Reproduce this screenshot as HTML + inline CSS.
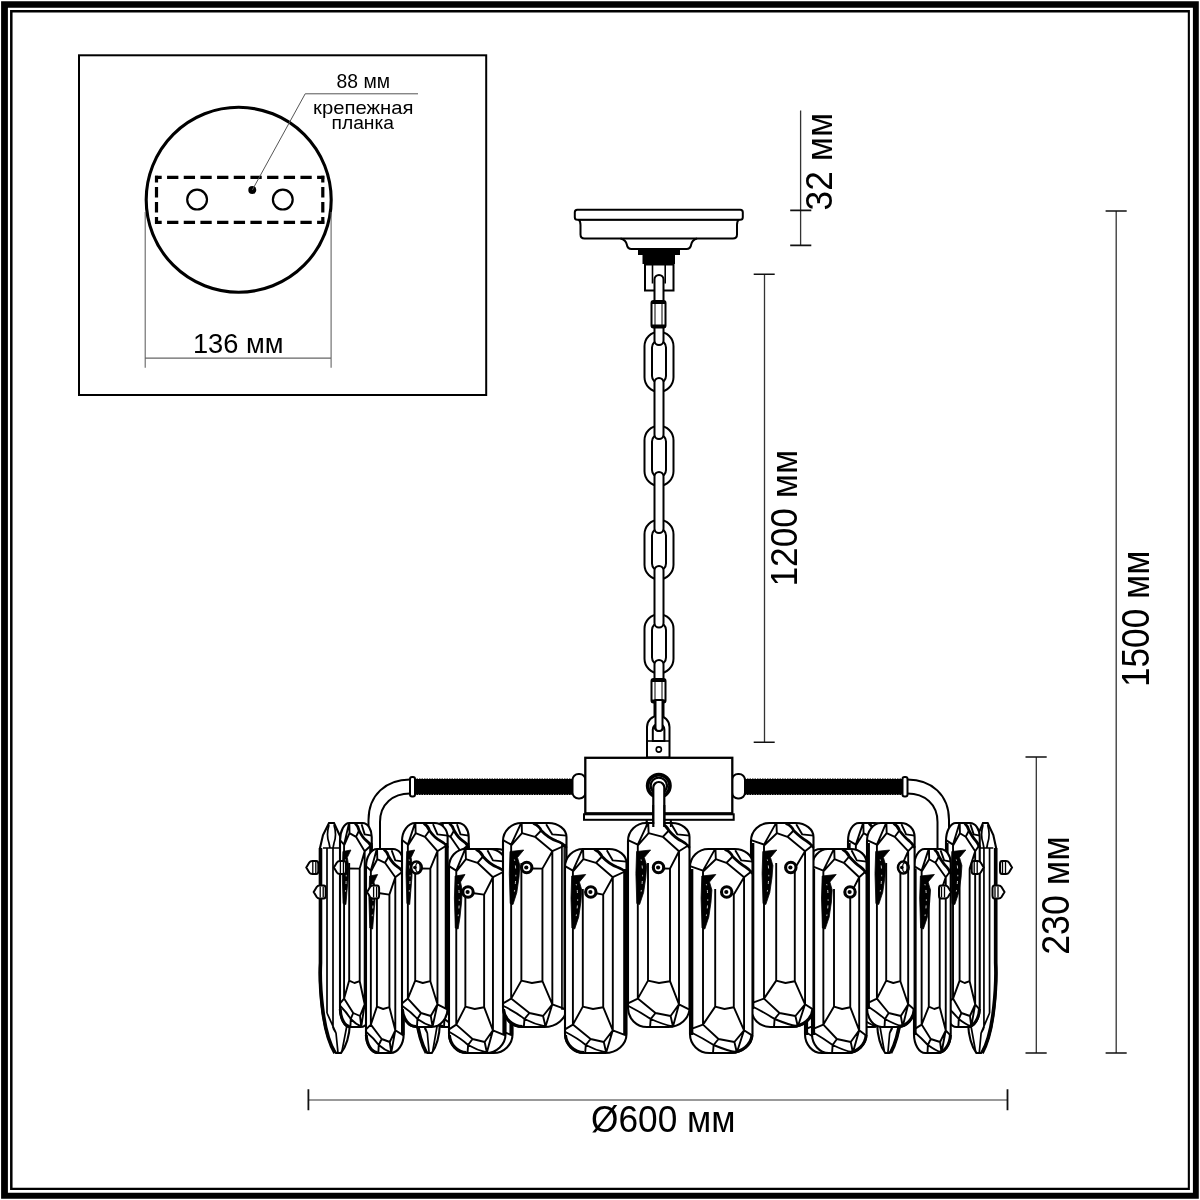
<!DOCTYPE html><html><head><meta charset="utf-8"><style>html,body{margin:0;padding:0;background:#fff;width:1200px;height:1200px;overflow:hidden}svg{display:block;will-change:transform}.t{font-family:"Liberation Sans",sans-serif;fill:#000}</style></head><body>
<svg width="1200" height="1200" viewBox="0 0 1200 1200">
<rect width="1200" height="1200" fill="#fff"/>
<path fill-rule="evenodd" fill="#000" d="M1.1,1.2H1198.8V1198.8H1.1Z M7.9,7.8V1192.8H1192.9V7.8Z"/>
<path fill-rule="evenodd" fill="#000" d="M10.05,10H1189.9V1189.9H10.05Z M12.55,12.5V1187.7H1187.8V12.5Z"/>
<rect x="79" y="55.3" width="407.2" height="339.7" fill="none" stroke="#000" stroke-width="2"/>
<circle cx="238.7" cy="199.8" r="92.5" fill="none" stroke="#000" stroke-width="3.1"/>
<path d="M155,177.3H324.3M155,222.3H324.3" fill="none" stroke="#000" stroke-width="3.2" stroke-dasharray="11.3 5.37" stroke-dashoffset="4.6"/>
<path d="M156.5,175.8V223.8M322.8,175.8V223.8" fill="none" stroke="#000" stroke-width="3.2" stroke-dasharray="10.5 4.5" stroke-dashoffset="3.8"/>
<circle cx="197.1" cy="199.6" r="9.9" fill="none" stroke="#000" stroke-width="2.2"/>
<circle cx="282.8" cy="199.6" r="9.9" fill="none" stroke="#000" stroke-width="2.2"/>
<circle cx="252.3" cy="190" r="4" fill="#000"/>
<path d="M252.3,190L305.2,93.8H418" fill="none" stroke="#555" stroke-width="1"/>
<path d="M145.2,212V367.8M331.1,212V367.8M145.2,358.1H331.1" fill="none" stroke="#666" stroke-width="1.1"/>
<text class="t" transform="translate(192.92,353.20) scale(0.9894,1)" font-size="27.57">136 мм</text>
<text class="t" transform="translate(336.53,88.20) scale(0.9964,1)" font-size="19.43">88 мм</text>
<text class="t" transform="translate(313.08,113.90) scale(1.0849,1)" font-size="18.70">крепежная</text>
<text class="t" transform="translate(331.55,128.60) scale(1.0089,1)" font-size="19.07">планка</text>
<g fill="none" stroke="#333" stroke-width="1.3">
<path d="M800.6,110.5V245.4M764.5,274.3V742.2M1116.2,211V1053M1036.3,757V1053"/>
<path stroke="#777" stroke-width="1.7" d="M308.4,1100H1007.5"/>
</g>
<g fill="none" stroke="#111" stroke-width="1.6">
<path d="M790.2,210.4H811.3M790.2,245.4H811.3M753.7,274.3H774.7M753.7,742.2H774.7M1105.6,211H1126.7M1105.6,1053H1126.7M1025.5,757H1046.7M1025.5,1053H1046.7"/>
<path stroke-width="1.8" d="M308.4,1089.3V1110.3M1007.5,1089.3V1110.3"/>
</g>
<text class="t" transform="translate(832.20,210.41) rotate(-90) scale(0.9686,1)" font-size="36.43">32 мм</text>
<text class="t" transform="translate(797.00,586.52) rotate(-90) scale(0.9682,1)" font-size="36.43">1200 мм</text>
<text class="t" transform="translate(1149.20,687.02) rotate(-90) scale(0.9225,1)" font-size="38.14">1500 мм</text>
<text class="t" transform="translate(1069.40,954.79) rotate(-90) scale(0.9300,1)" font-size="38.43">230 мм</text>
<text class="t" transform="translate(591.09,1132.00) scale(0.9670,1)" font-size="36.43">Ø600 мм</text>
<path fill="#fff" stroke="#000" stroke-width="2" d="M578.5,219.5 Q580.5,221 580.5,225 V234.5 Q580.5,238.5 584.5,238.5 H733 Q737,238.5 737,234.5 V225 Q737,221 739,219.5 Z"/>
<rect fill="#fff" stroke="#000" stroke-width="2" x="574.8" y="209.8" width="168" height="10" rx="2.5"/>
<path fill="none" stroke="#000" stroke-width="2" d="M620.5,238.5 Q626,240 626.8,244.5 Q627.5,249 631.5,249 H686.5 Q690.5,249 691.2,244.5 Q692,240 697,238.5"/>
<rect x="638" y="249" width="42" height="6" fill="#000"/><rect x="642.5" y="254" width="32.5" height="10" fill="#000"/>
<rect fill="#fff" stroke="#000" stroke-width="2" x="645" y="264.5" width="28.5" height="26"/>
<path fill="none" stroke="#000" stroke-width="1.6" d="M652.5,264.5V283.5M665.2,264.5V283.5"/>
<rect x="644.5" y="331.8" width="29" height="59.9" rx="14.5" fill="#fff" stroke="#000" stroke-width="2"/><rect x="652" y="340.5" width="14" height="42.5" rx="7" fill="#fff" stroke="#000" stroke-width="2"/>
<rect x="644.5" y="425.8" width="29" height="59.9" rx="14.5" fill="#fff" stroke="#000" stroke-width="2"/><rect x="652" y="434.5" width="14" height="42.5" rx="7" fill="#fff" stroke="#000" stroke-width="2"/>
<rect x="644.5" y="519.8" width="29" height="59.4" rx="14.5" fill="#fff" stroke="#000" stroke-width="2"/><rect x="652" y="528.5" width="14" height="42" rx="7" fill="#fff" stroke="#000" stroke-width="2"/>
<rect x="644.5" y="614.3" width="29" height="58.9" rx="14.5" fill="#fff" stroke="#000" stroke-width="2"/><rect x="652" y="623.0" width="14" height="41.5" rx="7" fill="#fff" stroke="#000" stroke-width="2"/>
<path fill="#fff" stroke="#000" stroke-width="2" d="M654.5,279.5 A4.5,4.5 0 0 1 663.5,279.5 L663.5,340.5 A4.5,4.5 0 0 1 654.5,340.5 Z"/>
<path fill="#fff" stroke="#000" stroke-width="2" d="M654.5,382.5 A4.5,4.5 0 0 1 663.5,382.5 L663.5,434.5 A4.5,4.5 0 0 1 654.5,434.5 Z"/>
<path fill="#fff" stroke="#000" stroke-width="2" d="M654.5,476.5 A4.5,4.5 0 0 1 663.5,476.5 L663.5,528.5 A4.5,4.5 0 0 1 654.5,528.5 Z"/>
<path fill="#fff" stroke="#000" stroke-width="2" d="M654.5,570.5 A4.5,4.5 0 0 1 663.5,570.5 L663.5,623.0 A4.5,4.5 0 0 1 654.5,623.0 Z"/>
<path fill="#fff" stroke="#000" stroke-width="2" d="M654.5,664.5 A4.5,4.5 0 0 1 663.5,664.5 L663.5,726.5 A4.5,4.5 0 0 1 654.5,726.5 Z"/>
<rect x="651.5" y="301" width="14" height="26.5" rx="2" fill="#fff" stroke="#000" stroke-width="2"/><path fill="none" stroke="#000" stroke-width="1" d="M655,303V325.5M662,303V325.5"/><rect x="651.5" y="301" width="14" height="3" fill="#000"/><rect x="651.5" y="324.5" width="14" height="3" fill="#000"/>
<rect x="651.5" y="679" width="14" height="23.5" rx="2" fill="#fff" stroke="#000" stroke-width="2"/><path fill="none" stroke="#000" stroke-width="1" d="M655,681V700.5M662,681V700.5"/><rect x="651.5" y="679" width="14" height="3" fill="#000"/><rect x="651.5" y="699.5" width="14" height="3" fill="#000"/>
<path fill-rule="evenodd" fill="#fff" stroke="#000" stroke-width="2" d="M647,757.5 V727 A11,11 0 0 1 669.5,727 V757.5 Z M652.8,741 V729.5 A5.8,5.8 0 0 1 664.4,729.5 V741 Z"/>
<path fill="none" stroke="#000" stroke-width="1.6" d="M647,741H669.5"/>
<path fill="#fff" stroke="#000" stroke-width="2" d="M655.5,700 L662.5,700 L662.5,727.5 A3.5,3.5 0 0 1 655.5,727.5 Z"/>
<circle cx="658.8" cy="749.5" r="2.6" fill="none" stroke="#000" stroke-width="1.6"/>
<rect x="412" y="778.5" width="161" height="16.5" fill="#000"/>
<rect x="745" y="778.5" width="159" height="16.5" fill="#000"/>
<path fill="none" stroke="#fff" stroke-width="1" stroke-dasharray="1 1.5" d="M413,778.5H572M746,778.5H903M413,795H572M746,795H903"/>
<rect fill="#fff" stroke="#000" stroke-width="2" x="572.5" y="774" width="13" height="24.5" rx="6"/>
<rect fill="#fff" stroke="#000" stroke-width="2" x="732" y="774" width="13" height="24.5" rx="6"/>
<path fill="none" stroke="#000" stroke-width="2" d="M410,779.5 C386,779.5 368.5,795 368.5,820 V860 M410,793.5 C393,793.5 380,804 380,822 V860"/>
<path fill="none" stroke="#000" stroke-width="2" d="M907.5,779.5 C931.5,779.5 949,795 949,820 V860 M907.5,793.5 C924.5,793.5 937.5,804 937.5,822 V860"/>
<rect fill="#fff" stroke="#000" stroke-width="2" x="410" y="777" width="5" height="19.5" rx="2"/>
<rect fill="#fff" stroke="#000" stroke-width="2" x="902.5" y="777" width="5" height="19.5" rx="2"/>
<rect fill="#fff" stroke="#000" stroke-width="2.3" x="585.3" y="757.8" width="147" height="55.5"/>
<rect fill="#fff" stroke="#000" stroke-width="2" x="584" y="814.3" width="149.7" height="5.5"/>
<path fill="none" stroke="#000" stroke-width="1.8" d="M646.7,820V828M670.8,820V828"/>
<circle cx="658.8" cy="785.8" r="11.2" fill="#fff" stroke="#000" stroke-width="3.6"/>
<circle cx="658.8" cy="785.8" r="8.2" fill="none" stroke="#000" stroke-width="2.4"/>
<path fill="#fff" stroke="#000" stroke-width="2.2" d="M653.3,830 V787.5 A5.5,5.5 0 0 1 664.3,787.5 V830 Z"/>
<g transform="translate(411.00,823.00) scale(0.9062,1)"><path vector-effect="non-scaling-stroke" fill="#fff" stroke="#000" stroke-width="2.1" d="M2,25 L5,12 L11,0 H16 L22,13 L26,25 L31,70 L32,200 Q31,220 23,230 H18 Q8,218 4,185 Q1,160 2,140 Z"/><path vector-effect="non-scaling-stroke" fill="none" stroke="#000" stroke-width="3.6" d="M2.5,25 V140 Q1.5,160 4.5,185 Q8,215 17,230"/><path vector-effect="non-scaling-stroke" fill="none" stroke="#000" stroke-width="1.7" d="M5,25 H23 M11,2 Q8,12 11,20 L12,25 M16,2 Q19,12 16,20 L15,25 M9,25V190 M15,25V205 M22,26V180 M28,60V200 M9,190 L18,210 L20,230 M22,180 L29,202 L24,228 M15,205 L18,210"/></g>
<g transform="translate(906.00,823.00) scale(-0.9062,1)"><path vector-effect="non-scaling-stroke" fill="#fff" stroke="#000" stroke-width="2.1" d="M2,25 L5,12 L11,0 H16 L22,13 L26,25 L31,70 L32,200 Q31,220 23,230 H18 Q8,218 4,185 Q1,160 2,140 Z"/><path vector-effect="non-scaling-stroke" fill="none" stroke="#000" stroke-width="3.6" d="M2.5,25 V140 Q1.5,160 4.5,185 Q8,215 17,230"/><path vector-effect="non-scaling-stroke" fill="none" stroke="#000" stroke-width="1.7" d="M5,25 H23 M11,2 Q8,12 11,20 L12,25 M16,2 Q19,12 16,20 L15,25 M9,25V190 M15,25V205 M22,26V180 M28,60V200 M9,190 L18,210 L20,230 M22,180 L29,202 L24,228 M15,205 L18,210"/></g>
<g transform="translate(432.00,823.00) scale(0.5968,1)"><path vector-effect="non-scaling-stroke" fill="#fff" stroke="#000" stroke-width="2.1" d="M0,18 A18,18 0 0 1 18,0 H44 A17.5,14 0 0 1 61.5,14 V185 A21.5,19 0 0 1 40,204 H19 A19,19 0 0 1 0,185 Z"/><path vector-effect="non-scaling-stroke" fill="none" stroke="#000" stroke-width="3.4" d="M59.9,20V186"/><path vector-effect="non-scaling-stroke" fill="none" stroke="#000" stroke-width="3" d="M0.5,186 A19,19 0 0 0 19,203.5"/><path vector-effect="non-scaling-stroke" fill="none" stroke="#000" stroke-width="1.9" stroke-linejoin="round" d="M0,17.1 L7.9,21.6 L17.2,0.9 M18.1,0.9 L18.400000000000002,10.2 L8.200000000000001,22.2 M18.400000000000002,10.2 L31.0,13.8 L37.0,7.5 M31.0,13.8 L47.8,28.2 L61,22 M41.8,1.2 L47.8,11.4 L61.6,12.6 M47.8,28.2 L38.2,45.6 M7.9,21.6V175.6 M17.8,40V157.6 M38.2,45.6V158.2 M47.8,28.2V181.3 M17.8,157.6 L28.0,160 L38.2,158.2 M17.8,157.6 L7.9,175.6 L0,180.4 M7.9,175.6 L25.6,190 L38.8,193 L47.8,181.3 L38.2,158.2 M47.8,181.3 L61,186.4 M47.8,181.3 L41.2,203.5 M38.8,193 L41.2,203.5 M25.6,190 L20.8,196 M0.5,183 Q13,189.4 20.8,196 L20.2,203.5 M20.8,196 Q31.0,201.4 41.0,203.5"/><path vector-effect="non-scaling-stroke" fill="none" stroke="#000" stroke-width="2.8" stroke-linecap="round" d="M30.0,0.8 Q35.0,3 37.0,7.5 Q44.0,15 52.0,18 Q58,20 61,24"/></g>
<g transform="translate(848.00,823.00) scale(0.6129,1)"><path vector-effect="non-scaling-stroke" fill="#fff" stroke="#000" stroke-width="2.1" d="M0,18 A18,18 0 0 1 18,0 H44 A17.5,14 0 0 1 61.5,14 V185 A21.5,19 0 0 1 40,204 H19 A19,19 0 0 1 0,185 Z"/><path vector-effect="non-scaling-stroke" fill="none" stroke="#000" stroke-width="3.4" d="M1.6,20V186"/><path vector-effect="non-scaling-stroke" fill="none" stroke="#000" stroke-width="3" d="M61,186 A21.5,19 0 0 1 40,203.5"/><path vector-effect="non-scaling-stroke" fill="none" stroke="#000" stroke-width="1.9" stroke-linejoin="round" d="M0,17.1 L12.8,21.6 L24.2,0.9 M25.1,0.9 L25.400000000000002,10.2 L13.100000000000001,22.2 M25.400000000000002,10.2 L35.9,13.8 L41.9,7.5 M35.9,13.8 L53.2,28.2 L61,22 M44.5,1.2 L50.5,11.4 L61.6,12.6 M53.2,28.2 L43.1,45.6 M12.8,21.6V175.6 M24.8,40V157.6 M43.1,45.6V158.2 M53.2,28.2V181.3 M24.8,157.6 L33.95,160 L43.1,158.2 M24.8,157.6 L12.8,175.6 L0,180.4 M12.8,175.6 L28.05,190 L43.699999999999996,193 L53.2,181.3 L43.1,158.2 M53.2,181.3 L61,186.4 M53.2,181.3 L46.1,203.5 M43.699999999999996,193 L46.1,203.5 M28.05,190 L23.25,196 M0.5,183 Q13,189.4 23.25,196 L22.65,203.5 M23.25,196 Q35.9,201.4 45.9,203.5"/><path vector-effect="non-scaling-stroke" fill="none" stroke="#000" stroke-width="2.8" stroke-linecap="round" d="M34.9,0.8 Q39.9,3 41.9,7.5 Q49.400000000000006,15 54.7,18 Q58,20 61,24"/></g>
<g transform="translate(458.00,849.00) scale(0.8871,1)"><path vector-effect="non-scaling-stroke" fill="#fff" stroke="#000" stroke-width="2.1" d="M0,18 A18,18 0 0 1 18,0 H44 A17.5,14 0 0 1 61.5,14 V185 A21.5,19 0 0 1 40,204 H19 A19,19 0 0 1 0,185 Z"/><path vector-effect="non-scaling-stroke" fill="none" stroke="#000" stroke-width="3.4" d="M59.9,20V186"/><path vector-effect="non-scaling-stroke" fill="none" stroke="#000" stroke-width="3" d="M0.5,186 A19,19 0 0 0 19,203.5"/><path vector-effect="non-scaling-stroke" fill="none" stroke="#000" stroke-width="1.9" stroke-linejoin="round" d="M0,17.1 L7.9,21.6 L17.2,0.9 M18.1,0.9 L18.400000000000002,10.2 L8.200000000000001,22.2 M18.400000000000002,10.2 L31.0,13.8 L37.0,7.5 M31.0,13.8 L47.8,28.2 L61,22 M41.8,1.2 L47.8,11.4 L61.6,12.6 M47.8,28.2 L38.2,45.6 M7.9,21.6V175.6 M17.8,40V157.6 M38.2,45.6V158.2 M47.8,28.2V181.3 M17.8,157.6 L28.0,160 L38.2,158.2 M17.8,157.6 L7.9,175.6 L0,180.4 M7.9,175.6 L25.6,190 L38.8,193 L47.8,181.3 L38.2,158.2 M47.8,181.3 L61,186.4 M47.8,181.3 L41.2,203.5 M38.8,193 L41.2,203.5 M25.6,190 L20.8,196 M0.5,183 Q13,189.4 20.8,196 L20.2,203.5 M20.8,196 Q31.0,201.4 41.0,203.5"/><path vector-effect="non-scaling-stroke" fill="none" stroke="#000" stroke-width="2.8" stroke-linecap="round" d="M30.0,0.8 Q35.0,3 37.0,7.5 Q44.0,15 52.0,18 Q58,20 61,24"/></g>
<g transform="translate(805.00,849.00) scale(0.8871,1)"><path vector-effect="non-scaling-stroke" fill="#fff" stroke="#000" stroke-width="2.1" d="M0,18 A18,18 0 0 1 18,0 H44 A17.5,14 0 0 1 61.5,14 V185 A21.5,19 0 0 1 40,204 H19 A19,19 0 0 1 0,185 Z"/><path vector-effect="non-scaling-stroke" fill="none" stroke="#000" stroke-width="3.4" d="M1.6,20V186"/><path vector-effect="non-scaling-stroke" fill="none" stroke="#000" stroke-width="3" d="M61,186 A21.5,19 0 0 1 40,203.5"/><path vector-effect="non-scaling-stroke" fill="none" stroke="#000" stroke-width="1.9" stroke-linejoin="round" d="M0,17.1 L12.8,21.6 L24.2,0.9 M25.1,0.9 L25.400000000000002,10.2 L13.100000000000001,22.2 M25.400000000000002,10.2 L35.9,13.8 L41.9,7.5 M35.9,13.8 L53.2,28.2 L61,22 M44.5,1.2 L50.5,11.4 L61.6,12.6 M53.2,28.2 L43.1,45.6 M12.8,21.6V175.6 M24.8,40V157.6 M43.1,45.6V158.2 M53.2,28.2V181.3 M24.8,157.6 L33.95,160 L43.1,158.2 M24.8,157.6 L12.8,175.6 L0,180.4 M12.8,175.6 L28.05,190 L43.699999999999996,193 L53.2,181.3 L43.1,158.2 M53.2,181.3 L61,186.4 M53.2,181.3 L46.1,203.5 M43.699999999999996,193 L46.1,203.5 M28.05,190 L23.25,196 M0.5,183 Q13,189.4 23.25,196 L22.65,203.5 M23.25,196 Q35.9,201.4 45.9,203.5"/><path vector-effect="non-scaling-stroke" fill="none" stroke="#000" stroke-width="2.8" stroke-linecap="round" d="M34.9,0.8 Q39.9,3 41.9,7.5 Q49.400000000000006,15 54.7,18 Q58,20 61,24"/></g>
<g transform="translate(318.00,823.00) scale(1.0000,1)"><path vector-effect="non-scaling-stroke" fill="#fff" stroke="#000" stroke-width="2.1" d="M2,25 L5,12 L11,0 H16 L22,13 L26,25 L31,70 L32,200 Q31,220 23,230 H18 Q8,218 4,185 Q1,160 2,140 Z"/><path vector-effect="non-scaling-stroke" fill="none" stroke="#000" stroke-width="3.6" d="M2.5,25 V140 Q1.5,160 4.5,185 Q8,215 17,230"/><path vector-effect="non-scaling-stroke" fill="none" stroke="#000" stroke-width="1.7" d="M5,25 H23 M11,2 Q8,12 11,20 L12,25 M16,2 Q19,12 16,20 L15,25 M9,25V190 M15,25V205 M22,26V180 M28,60V200 M9,190 L18,210 L20,230 M22,180 L29,202 L24,228 M15,205 L18,210"/></g>
<g transform="translate(998.00,823.00) scale(-0.9375,1)"><path vector-effect="non-scaling-stroke" fill="#fff" stroke="#000" stroke-width="2.1" d="M2,25 L5,12 L11,0 H16 L22,13 L26,25 L31,70 L32,200 Q31,220 23,230 H18 Q8,218 4,185 Q1,160 2,140 Z"/><path vector-effect="non-scaling-stroke" fill="none" stroke="#000" stroke-width="3.6" d="M2.5,25 V140 Q1.5,160 4.5,185 Q8,215 17,230"/><path vector-effect="non-scaling-stroke" fill="none" stroke="#000" stroke-width="1.7" d="M5,25 H23 M11,2 Q8,12 11,20 L12,25 M16,2 Q19,12 16,20 L15,25 M9,25V190 M15,25V205 M22,26V180 M28,60V200 M9,190 L18,210 L20,230 M22,180 L29,202 L24,228 M15,205 L18,210"/></g>
<g transform="translate(340.00,823.00) scale(0.5161,1)"><path vector-effect="non-scaling-stroke" fill="#fff" stroke="#000" stroke-width="2.1" d="M0,18 A18,18 0 0 1 18,0 H44 A17.5,14 0 0 1 61.5,14 V185 A21.5,19 0 0 1 40,204 H19 A19,19 0 0 1 0,185 Z"/><path vector-effect="non-scaling-stroke" fill="none" stroke="#000" stroke-width="3.4" d="M59.9,20V186"/><path vector-effect="non-scaling-stroke" fill="none" stroke="#000" stroke-width="3" d="M0.5,186 A19,19 0 0 0 19,203.5"/><path vector-effect="non-scaling-stroke" fill="none" stroke="#000" stroke-width="1.9" stroke-linejoin="round" d="M0,17.1 L7.9,21.6 L17.2,0.9 M18.1,0.9 L18.400000000000002,10.2 L8.200000000000001,22.2 M18.400000000000002,10.2 L31.0,13.8 L37.0,7.5 M31.0,13.8 L47.8,28.2 L61,22 M41.8,1.2 L47.8,11.4 L61.6,12.6 M47.8,28.2 L38.2,45.6 M7.9,21.6V175.6 M17.8,40V157.6 M38.2,45.6V158.2 M47.8,28.2V181.3 M17.8,157.6 L28.0,160 L38.2,158.2 M17.8,157.6 L7.9,175.6 L0,180.4 M7.9,175.6 L25.6,190 L38.8,193 L47.8,181.3 L38.2,158.2 M47.8,181.3 L61,186.4 M47.8,181.3 L41.2,203.5 M38.8,193 L41.2,203.5 M25.6,190 L20.8,196 M0.5,183 Q13,189.4 20.8,196 L20.2,203.5 M20.8,196 Q31.0,201.4 41.0,203.5"/><path vector-effect="non-scaling-stroke" fill="none" stroke="#000" stroke-width="2.8" stroke-linecap="round" d="M30.0,0.8 Q35.0,3 37.0,7.5 Q44.0,15 52.0,18 Q58,20 61,24"/></g>
<g transform="translate(946.00,823.00) scale(0.5484,1)"><path vector-effect="non-scaling-stroke" fill="#fff" stroke="#000" stroke-width="2.1" d="M0,18 A18,18 0 0 1 18,0 H44 A17.5,14 0 0 1 61.5,14 V185 A21.5,19 0 0 1 40,204 H19 A19,19 0 0 1 0,185 Z"/><path vector-effect="non-scaling-stroke" fill="none" stroke="#000" stroke-width="3.4" d="M1.6,20V186"/><path vector-effect="non-scaling-stroke" fill="none" stroke="#000" stroke-width="3" d="M61,186 A21.5,19 0 0 1 40,203.5"/><path vector-effect="non-scaling-stroke" fill="none" stroke="#000" stroke-width="1.9" stroke-linejoin="round" d="M0,17.1 L12.8,21.6 L24.2,0.9 M25.1,0.9 L25.400000000000002,10.2 L13.100000000000001,22.2 M25.400000000000002,10.2 L35.9,13.8 L41.9,7.5 M35.9,13.8 L53.2,28.2 L61,22 M44.5,1.2 L50.5,11.4 L61.6,12.6 M53.2,28.2 L43.1,45.6 M12.8,21.6V175.6 M24.8,40V157.6 M43.1,45.6V158.2 M53.2,28.2V181.3 M24.8,157.6 L33.95,160 L43.1,158.2 M24.8,157.6 L12.8,175.6 L0,180.4 M12.8,175.6 L28.05,190 L43.699999999999996,193 L53.2,181.3 L43.1,158.2 M53.2,181.3 L61,186.4 M53.2,181.3 L46.1,203.5 M43.699999999999996,193 L46.1,203.5 M28.05,190 L23.25,196 M0.5,183 Q13,189.4 23.25,196 L22.65,203.5 M23.25,196 Q35.9,201.4 45.9,203.5"/><path vector-effect="non-scaling-stroke" fill="none" stroke="#000" stroke-width="2.8" stroke-linecap="round" d="M34.9,0.8 Q39.9,3 41.9,7.5 Q49.400000000000006,15 54.7,18 Q58,20 61,24"/></g>
<g transform="translate(366.00,849.00) scale(0.6129,1)"><path vector-effect="non-scaling-stroke" fill="#fff" stroke="#000" stroke-width="2.1" d="M0,18 A18,18 0 0 1 18,0 H44 A17.5,14 0 0 1 61.5,14 V185 A21.5,19 0 0 1 40,204 H19 A19,19 0 0 1 0,185 Z"/><path vector-effect="non-scaling-stroke" fill="none" stroke="#000" stroke-width="3.4" d="M59.9,20V186"/><path vector-effect="non-scaling-stroke" fill="none" stroke="#000" stroke-width="3" d="M0.5,186 A19,19 0 0 0 19,203.5"/><path vector-effect="non-scaling-stroke" fill="none" stroke="#000" stroke-width="1.9" stroke-linejoin="round" d="M0,17.1 L7.9,21.6 L17.2,0.9 M18.1,0.9 L18.400000000000002,10.2 L8.200000000000001,22.2 M18.400000000000002,10.2 L31.0,13.8 L37.0,7.5 M31.0,13.8 L47.8,28.2 L61,22 M41.8,1.2 L47.8,11.4 L61.6,12.6 M47.8,28.2 L38.2,45.6 M7.9,21.6V175.6 M17.8,40V157.6 M38.2,45.6V158.2 M47.8,28.2V181.3 M17.8,157.6 L28.0,160 L38.2,158.2 M17.8,157.6 L7.9,175.6 L0,180.4 M7.9,175.6 L25.6,190 L38.8,193 L47.8,181.3 L38.2,158.2 M47.8,181.3 L61,186.4 M47.8,181.3 L41.2,203.5 M38.8,193 L41.2,203.5 M25.6,190 L20.8,196 M0.5,183 Q13,189.4 20.8,196 L20.2,203.5 M20.8,196 Q31.0,201.4 41.0,203.5"/><path vector-effect="non-scaling-stroke" fill="none" stroke="#000" stroke-width="2.8" stroke-linecap="round" d="M30.0,0.8 Q35.0,3 37.0,7.5 Q44.0,15 52.0,18 Q58,20 61,24"/></g>
<g transform="translate(914.00,849.00) scale(0.5968,1)"><path vector-effect="non-scaling-stroke" fill="#fff" stroke="#000" stroke-width="2.1" d="M0,18 A18,18 0 0 1 18,0 H44 A17.5,14 0 0 1 61.5,14 V185 A21.5,19 0 0 1 40,204 H19 A19,19 0 0 1 0,185 Z"/><path vector-effect="non-scaling-stroke" fill="none" stroke="#000" stroke-width="3.4" d="M1.6,20V186"/><path vector-effect="non-scaling-stroke" fill="none" stroke="#000" stroke-width="3" d="M61,186 A21.5,19 0 0 1 40,203.5"/><path vector-effect="non-scaling-stroke" fill="none" stroke="#000" stroke-width="1.9" stroke-linejoin="round" d="M0,17.1 L12.8,21.6 L24.2,0.9 M25.1,0.9 L25.400000000000002,10.2 L13.100000000000001,22.2 M25.400000000000002,10.2 L35.9,13.8 L41.9,7.5 M35.9,13.8 L53.2,28.2 L61,22 M44.5,1.2 L50.5,11.4 L61.6,12.6 M53.2,28.2 L43.1,45.6 M12.8,21.6V175.6 M24.8,40V157.6 M43.1,45.6V158.2 M53.2,28.2V181.3 M24.8,157.6 L33.95,160 L43.1,158.2 M24.8,157.6 L12.8,175.6 L0,180.4 M12.8,175.6 L28.05,190 L43.699999999999996,193 L53.2,181.3 L43.1,158.2 M53.2,181.3 L61,186.4 M53.2,181.3 L46.1,203.5 M43.699999999999996,193 L46.1,203.5 M28.05,190 L23.25,196 M0.5,183 Q13,189.4 23.25,196 L22.65,203.5 M23.25,196 Q35.9,201.4 45.9,203.5"/><path vector-effect="non-scaling-stroke" fill="none" stroke="#000" stroke-width="2.8" stroke-linecap="round" d="M34.9,0.8 Q39.9,3 41.9,7.5 Q49.400000000000006,15 54.7,18 Q58,20 61,24"/></g>
<g transform="translate(402.00,823.00) scale(0.7419,1)"><path vector-effect="non-scaling-stroke" fill="#fff" stroke="#000" stroke-width="2.1" d="M0,18 A18,18 0 0 1 18,0 H44 A17.5,14 0 0 1 61.5,14 V185 A21.5,19 0 0 1 40,204 H19 A19,19 0 0 1 0,185 Z"/><path vector-effect="non-scaling-stroke" fill="none" stroke="#000" stroke-width="3.4" d="M59.9,20V186"/><path vector-effect="non-scaling-stroke" fill="none" stroke="#000" stroke-width="3" d="M0.5,186 A19,19 0 0 0 19,203.5"/><path vector-effect="non-scaling-stroke" fill="none" stroke="#000" stroke-width="1.9" stroke-linejoin="round" d="M0,17.1 L7.9,21.6 L17.2,0.9 M18.1,0.9 L18.400000000000002,10.2 L8.200000000000001,22.2 M18.400000000000002,10.2 L31.0,13.8 L37.0,7.5 M31.0,13.8 L47.8,28.2 L61,22 M41.8,1.2 L47.8,11.4 L61.6,12.6 M47.8,28.2 L38.2,45.6 M7.9,21.6V175.6 M17.8,40V157.6 M38.2,45.6V158.2 M47.8,28.2V181.3 M17.8,157.6 L28.0,160 L38.2,158.2 M17.8,157.6 L7.9,175.6 L0,180.4 M7.9,175.6 L25.6,190 L38.8,193 L47.8,181.3 L38.2,158.2 M47.8,181.3 L61,186.4 M47.8,181.3 L41.2,203.5 M38.8,193 L41.2,203.5 M25.6,190 L20.8,196 M0.5,183 Q13,189.4 20.8,196 L20.2,203.5 M20.8,196 Q31.0,201.4 41.0,203.5"/><path vector-effect="non-scaling-stroke" fill="none" stroke="#000" stroke-width="2.8" stroke-linecap="round" d="M30.0,0.8 Q35.0,3 37.0,7.5 Q44.0,15 52.0,18 Q58,20 61,24"/></g>
<g transform="translate(867.00,823.00) scale(0.7742,1)"><path vector-effect="non-scaling-stroke" fill="#fff" stroke="#000" stroke-width="2.1" d="M0,18 A18,18 0 0 1 18,0 H44 A17.5,14 0 0 1 61.5,14 V185 A21.5,19 0 0 1 40,204 H19 A19,19 0 0 1 0,185 Z"/><path vector-effect="non-scaling-stroke" fill="none" stroke="#000" stroke-width="3.4" d="M1.6,20V186"/><path vector-effect="non-scaling-stroke" fill="none" stroke="#000" stroke-width="3" d="M61,186 A21.5,19 0 0 1 40,203.5"/><path vector-effect="non-scaling-stroke" fill="none" stroke="#000" stroke-width="1.9" stroke-linejoin="round" d="M0,17.1 L12.8,21.6 L24.2,0.9 M25.1,0.9 L25.400000000000002,10.2 L13.100000000000001,22.2 M25.400000000000002,10.2 L35.9,13.8 L41.9,7.5 M35.9,13.8 L53.2,28.2 L61,22 M44.5,1.2 L50.5,11.4 L61.6,12.6 M53.2,28.2 L43.1,45.6 M12.8,21.6V175.6 M24.8,40V157.6 M43.1,45.6V158.2 M53.2,28.2V181.3 M24.8,157.6 L33.95,160 L43.1,158.2 M24.8,157.6 L12.8,175.6 L0,180.4 M12.8,175.6 L28.05,190 L43.699999999999996,193 L53.2,181.3 L43.1,158.2 M53.2,181.3 L61,186.4 M53.2,181.3 L46.1,203.5 M43.699999999999996,193 L46.1,203.5 M28.05,190 L23.25,196 M0.5,183 Q13,189.4 23.25,196 L22.65,203.5 M23.25,196 Q35.9,201.4 45.9,203.5"/><path vector-effect="non-scaling-stroke" fill="none" stroke="#000" stroke-width="2.8" stroke-linecap="round" d="M34.9,0.8 Q39.9,3 41.9,7.5 Q49.400000000000006,15 54.7,18 Q58,20 61,24"/></g>
<g transform="translate(449.00,849.00) scale(0.9194,1)"><path vector-effect="non-scaling-stroke" fill="#fff" stroke="#000" stroke-width="2.1" d="M0,18 A18,18 0 0 1 18,0 H44 A17.5,14 0 0 1 61.5,14 V185 A21.5,19 0 0 1 40,204 H19 A19,19 0 0 1 0,185 Z"/><path vector-effect="non-scaling-stroke" fill="none" stroke="#000" stroke-width="3.4" d="M59.9,20V186"/><path vector-effect="non-scaling-stroke" fill="none" stroke="#000" stroke-width="3" d="M0.5,186 A19,19 0 0 0 19,203.5"/><path vector-effect="non-scaling-stroke" fill="none" stroke="#000" stroke-width="1.9" stroke-linejoin="round" d="M0,17.1 L7.9,21.6 L17.2,0.9 M18.1,0.9 L18.400000000000002,10.2 L8.200000000000001,22.2 M18.400000000000002,10.2 L31.0,13.8 L37.0,7.5 M31.0,13.8 L47.8,28.2 L61,22 M41.8,1.2 L47.8,11.4 L61.6,12.6 M47.8,28.2 L38.2,45.6 M7.9,21.6V175.6 M17.8,40V157.6 M38.2,45.6V158.2 M47.8,28.2V181.3 M17.8,157.6 L28.0,160 L38.2,158.2 M17.8,157.6 L7.9,175.6 L0,180.4 M7.9,175.6 L25.6,190 L38.8,193 L47.8,181.3 L38.2,158.2 M47.8,181.3 L61,186.4 M47.8,181.3 L41.2,203.5 M38.8,193 L41.2,203.5 M25.6,190 L20.8,196 M0.5,183 Q13,189.4 20.8,196 L20.2,203.5 M20.8,196 Q31.0,201.4 41.0,203.5"/><path vector-effect="non-scaling-stroke" fill="none" stroke="#000" stroke-width="2.8" stroke-linecap="round" d="M30.0,0.8 Q35.0,3 37.0,7.5 Q44.0,15 52.0,18 Q58,20 61,24"/></g>
<g transform="translate(812.00,849.00) scale(0.8871,1)"><path vector-effect="non-scaling-stroke" fill="#fff" stroke="#000" stroke-width="2.1" d="M0,18 A18,18 0 0 1 18,0 H44 A17.5,14 0 0 1 61.5,14 V185 A21.5,19 0 0 1 40,204 H19 A19,19 0 0 1 0,185 Z"/><path vector-effect="non-scaling-stroke" fill="none" stroke="#000" stroke-width="3.4" d="M1.6,20V186"/><path vector-effect="non-scaling-stroke" fill="none" stroke="#000" stroke-width="3" d="M61,186 A21.5,19 0 0 1 40,203.5"/><path vector-effect="non-scaling-stroke" fill="none" stroke="#000" stroke-width="1.9" stroke-linejoin="round" d="M0,17.1 L12.8,21.6 L24.2,0.9 M25.1,0.9 L25.400000000000002,10.2 L13.100000000000001,22.2 M25.400000000000002,10.2 L35.9,13.8 L41.9,7.5 M35.9,13.8 L53.2,28.2 L61,22 M44.5,1.2 L50.5,11.4 L61.6,12.6 M53.2,28.2 L43.1,45.6 M12.8,21.6V175.6 M24.8,40V157.6 M43.1,45.6V158.2 M53.2,28.2V181.3 M24.8,157.6 L33.95,160 L43.1,158.2 M24.8,157.6 L12.8,175.6 L0,180.4 M12.8,175.6 L28.05,190 L43.699999999999996,193 L53.2,181.3 L43.1,158.2 M53.2,181.3 L61,186.4 M53.2,181.3 L46.1,203.5 M43.699999999999996,193 L46.1,203.5 M28.05,190 L23.25,196 M0.5,183 Q13,189.4 23.25,196 L22.65,203.5 M23.25,196 Q35.9,201.4 45.9,203.5"/><path vector-effect="non-scaling-stroke" fill="none" stroke="#000" stroke-width="2.8" stroke-linecap="round" d="M34.9,0.8 Q39.9,3 41.9,7.5 Q49.400000000000006,15 54.7,18 Q58,20 61,24"/></g>
<g transform="translate(503.00,823.00) scale(1.0323,1)"><path vector-effect="non-scaling-stroke" fill="#fff" stroke="#000" stroke-width="2.1" d="M0,18 A18,18 0 0 1 18,0 H44 A17.5,14 0 0 1 61.5,14 V185 A21.5,19 0 0 1 40,204 H19 A19,19 0 0 1 0,185 Z"/><path vector-effect="non-scaling-stroke" fill="#888" stroke="#000" stroke-width="1.5" d="M57,22V186H60V22Z"/><path vector-effect="non-scaling-stroke" fill="none" stroke="#000" stroke-width="3" d="M0.5,186 A19,19 0 0 0 19,203.5"/><path vector-effect="non-scaling-stroke" fill="none" stroke="#000" stroke-width="1.9" stroke-linejoin="round" d="M0,17.1 L7.9,21.6 L17.2,0.9 M18.1,0.9 L18.400000000000002,10.2 L8.200000000000001,22.2 M18.400000000000002,10.2 L31.0,13.8 L37.0,7.5 M31.0,13.8 L47.8,28.2 L61,22 M41.8,1.2 L47.8,11.4 L61.6,12.6 M47.8,28.2 L38.2,45.6 M7.9,21.6V175.6 M17.8,40V157.6 M38.2,45.6V158.2 M47.8,28.2V181.3 M17.8,157.6 L28.0,160 L38.2,158.2 M17.8,157.6 L7.9,175.6 L0,180.4 M7.9,175.6 L25.6,190 L38.8,193 L47.8,181.3 L38.2,158.2 M47.8,181.3 L61,186.4 M47.8,181.3 L41.2,203.5 M38.8,193 L41.2,203.5 M25.6,190 L20.8,196 M0.5,183 Q13,189.4 20.8,196 L20.2,203.5 M20.8,196 Q31.0,201.4 41.0,203.5"/><path vector-effect="non-scaling-stroke" fill="none" stroke="#000" stroke-width="2.8" stroke-linecap="round" d="M30.0,0.8 Q35.0,3 37.0,7.5 Q44.0,15 52.0,18 Q58,20 61,24"/></g>
<g transform="translate(751.00,823.00) scale(1.0161,1)"><path vector-effect="non-scaling-stroke" fill="#fff" stroke="#000" stroke-width="2.1" d="M0,18 A18,18 0 0 1 18,0 H44 A17.5,14 0 0 1 61.5,14 V185 A21.5,19 0 0 1 40,204 H19 A19,19 0 0 1 0,185 Z"/><path vector-effect="non-scaling-stroke" fill="none" stroke="#000" stroke-width="3.4" d="M1.6,20V186"/><path vector-effect="non-scaling-stroke" fill="none" stroke="#000" stroke-width="3" d="M61,186 A21.5,19 0 0 1 40,203.5"/><path vector-effect="non-scaling-stroke" fill="none" stroke="#000" stroke-width="1.9" stroke-linejoin="round" d="M0,17.1 L12.8,21.6 L24.2,0.9 M25.1,0.9 L25.400000000000002,10.2 L13.100000000000001,22.2 M25.400000000000002,10.2 L35.9,13.8 L41.9,7.5 M35.9,13.8 L53.2,28.2 L61,22 M44.5,1.2 L50.5,11.4 L61.6,12.6 M53.2,28.2 L43.1,45.6 M12.8,21.6V175.6 M24.8,40V157.6 M43.1,45.6V158.2 M53.2,28.2V181.3 M24.8,157.6 L33.95,160 L43.1,158.2 M24.8,157.6 L12.8,175.6 L0,180.4 M12.8,175.6 L28.05,190 L43.699999999999996,193 L53.2,181.3 L43.1,158.2 M53.2,181.3 L61,186.4 M53.2,181.3 L46.1,203.5 M43.699999999999996,193 L46.1,203.5 M28.05,190 L23.25,196 M0.5,183 Q13,189.4 23.25,196 L22.65,203.5 M23.25,196 Q35.9,201.4 45.9,203.5"/><path vector-effect="non-scaling-stroke" fill="none" stroke="#000" stroke-width="2.8" stroke-linecap="round" d="M34.9,0.8 Q39.9,3 41.9,7.5 Q49.400000000000006,15 54.7,18 Q58,20 61,24"/></g>
<g transform="translate(565.00,849.00) scale(1.0000,1)"><path vector-effect="non-scaling-stroke" fill="#fff" stroke="#000" stroke-width="2.1" d="M0,18 A18,18 0 0 1 18,0 H44 A17.5,14 0 0 1 61.5,14 V185 A21.5,19 0 0 1 40,204 H19 A19,19 0 0 1 0,185 Z"/><path vector-effect="non-scaling-stroke" fill="none" stroke="#000" stroke-width="3.4" d="M59.9,20V186"/><path vector-effect="non-scaling-stroke" fill="none" stroke="#000" stroke-width="3" d="M0.5,186 A19,19 0 0 0 19,203.5"/><path vector-effect="non-scaling-stroke" fill="none" stroke="#000" stroke-width="1.9" stroke-linejoin="round" d="M0,17.1 L7.9,21.6 L17.2,0.9 M18.1,0.9 L18.400000000000002,10.2 L8.200000000000001,22.2 M18.400000000000002,10.2 L31.0,13.8 L37.0,7.5 M31.0,13.8 L47.8,28.2 L61,22 M41.8,1.2 L47.8,11.4 L61.6,12.6 M47.8,28.2 L38.2,45.6 M7.9,21.6V175.6 M17.8,40V157.6 M38.2,45.6V158.2 M47.8,28.2V181.3 M17.8,157.6 L28.0,160 L38.2,158.2 M17.8,157.6 L7.9,175.6 L0,180.4 M7.9,175.6 L25.6,190 L38.8,193 L47.8,181.3 L38.2,158.2 M47.8,181.3 L61,186.4 M47.8,181.3 L41.2,203.5 M38.8,193 L41.2,203.5 M25.6,190 L20.8,196 M0.5,183 Q13,189.4 20.8,196 L20.2,203.5 M20.8,196 Q31.0,201.4 41.0,203.5"/><path vector-effect="non-scaling-stroke" fill="none" stroke="#000" stroke-width="2.8" stroke-linecap="round" d="M30.0,0.8 Q35.0,3 37.0,7.5 Q44.0,15 52.0,18 Q58,20 61,24"/></g>
<g transform="translate(690.00,849.00) scale(1.0161,1)"><path vector-effect="non-scaling-stroke" fill="#fff" stroke="#000" stroke-width="2.1" d="M0,18 A18,18 0 0 1 18,0 H44 A17.5,14 0 0 1 61.5,14 V185 A21.5,19 0 0 1 40,204 H19 A19,19 0 0 1 0,185 Z"/><path vector-effect="non-scaling-stroke" fill="none" stroke="#000" stroke-width="3.4" d="M1.6,20V186"/><path vector-effect="non-scaling-stroke" fill="none" stroke="#000" stroke-width="3" d="M61,186 A21.5,19 0 0 1 40,203.5"/><path vector-effect="non-scaling-stroke" fill="none" stroke="#000" stroke-width="1.9" stroke-linejoin="round" d="M0,17.1 L12.8,21.6 L24.2,0.9 M25.1,0.9 L25.400000000000002,10.2 L13.100000000000001,22.2 M25.400000000000002,10.2 L35.9,13.8 L41.9,7.5 M35.9,13.8 L53.2,28.2 L61,22 M44.5,1.2 L50.5,11.4 L61.6,12.6 M53.2,28.2 L43.1,45.6 M12.8,21.6V175.6 M24.8,40V157.6 M43.1,45.6V158.2 M53.2,28.2V181.3 M24.8,157.6 L33.95,160 L43.1,158.2 M24.8,157.6 L12.8,175.6 L0,180.4 M12.8,175.6 L28.05,190 L43.699999999999996,193 L53.2,181.3 L43.1,158.2 M53.2,181.3 L61,186.4 M53.2,181.3 L46.1,203.5 M43.699999999999996,193 L46.1,203.5 M28.05,190 L23.25,196 M0.5,183 Q13,189.4 23.25,196 L22.65,203.5 M23.25,196 Q35.9,201.4 45.9,203.5"/><path vector-effect="non-scaling-stroke" fill="none" stroke="#000" stroke-width="2.8" stroke-linecap="round" d="M34.9,0.8 Q39.9,3 41.9,7.5 Q49.400000000000006,15 54.7,18 Q58,20 61,24"/></g>
<g transform="translate(628.00,823.00) scale(1.0000,1)"><path vector-effect="non-scaling-stroke" fill="#fff" stroke="#000" stroke-width="2.1" d="M0,18 A18,18 0 0 1 18,0 H44 A17.5,14 0 0 1 61.5,14 V185 A21.5,19 0 0 1 40,204 H19 A19,19 0 0 1 0,185 Z"/><path vector-effect="non-scaling-stroke" fill="none" stroke="#000" stroke-width="1.9" stroke-linejoin="round" d="M0,17.1 L9.8,21.6 L19.4,0.9 M20.3,0.9 L20.6,10.2 L10.100000000000001,22.2 M20.6,10.2 L34.8,13.8 L40.8,7.5 M34.8,13.8 L51,28.2 L61,22 M43.4,1.2 L49.4,11.4 L61.6,12.6 M51,28.2 L42,45.6 M9.8,21.6V175.6 M20,40V157.6 M42,45.6V158.2 M51,28.2V181.3 M20,157.6 L31.0,160 L42,158.2 M20,157.6 L9.8,175.6 L0,180.4 M9.8,175.6 L27.5,190 L42.599999999999994,193 L51,181.3 L42,158.2 M51,181.3 L61,186.4 M51,181.3 L45.0,203.5 M42.599999999999994,193 L45.0,203.5 M27.5,190 L22.7,196 M0.5,183 Q13,189.4 22.7,196 L22.099999999999998,203.5 M22.7,196 Q34.8,201.4 44.8,203.5"/><path vector-effect="non-scaling-stroke" fill="none" stroke="#000" stroke-width="2.8" stroke-linecap="round" d="M33.8,0.8 Q38.8,3 40.8,7.5 Q47.2,15 53.6,18 Q58,20 61,24"/></g>




<path fill="none" stroke="#000" stroke-width="1.9" d="M359.72,868.60L344.90,868.50"/><path fill="#000" stroke="#000" stroke-width="0.8" stroke-linejoin="round" d="M342.9,851.5 L350.9,850.0 L347.3,857.5 L348.6,865.5 L348.2,877.5 L346.9,892.5 L345.9,904.5 L343.1,903.5 L342.2,873.5Z"/><path fill="none" stroke="#fff" stroke-width="0.8" stroke-dasharray="1.5 5 3 6" d="M345.4,859.5Q347.3,873.5 345.1,895.5"/><path fill="#fff" stroke="#000" stroke-width="2" d="M333.9,867.5 L336.9,862.5 Q337.9,861.0 339.9,861.0 H343.9 Q345.9,861.0 345.9,864.0 V871.0 Q345.9,874.0 343.9,874.0 H339.9 Q337.9,874.0 336.9,872.5 Z"/><path fill="none" stroke="#000" stroke-width="1.3" d="M340.4,862.0V873.0M343.4,862.0V873.0"/>
<path fill="none" stroke="#000" stroke-width="1.9" d="M969.64,868.60L980.70,868.50"/><path fill="#000" stroke="#000" stroke-width="0.8" stroke-linejoin="round" d="M951.8,851.5 L965.8,850.0 L959.5,857.5 L961.9,865.5 L961.1,877.5 L958.8,892.5 L954.8,904.5 L952.0,903.5 L951.1,873.5Z"/><path fill="none" stroke="#fff" stroke-width="0.8" stroke-dasharray="1.5 5 3 6" d="M956.3,859.5Q959.5,873.5 955.7,895.5"/><path fill="#fff" stroke="#000" stroke-width="2" d="M983.7,867.5 L980.7,862.5 Q979.7,861.0 977.7,861.0 H973.7 Q971.7,861.0 971.7,864.0 V871.0 Q971.7,874.0 973.7,874.0 H977.7 Q979.7,874.0 980.7,872.5 Z"/><path fill="none" stroke="#000" stroke-width="1.3" d="M977.2,862.0V873.0M974.2,862.0V873.0"/>
<path fill="none" stroke="#000" stroke-width="1.9" d="M389.41,894.60L378.10,893.00"/><path fill="#000" stroke="#000" stroke-width="0.8" stroke-linejoin="round" d="M369.6,876.0 L377.6,874.5 L374.0,882.0 L375.4,890.0 L374.9,902.0 L373.6,917.0 L372.6,929.0 L369.8,928.0 L368.9,898.0Z"/><path fill="none" stroke="#fff" stroke-width="0.8" stroke-dasharray="1.5 5 3 6" d="M372.2,884Q374.0,898 371.9,920"/><path fill="#fff" stroke="#000" stroke-width="2" d="M367.1,892 L370.1,887.0 Q371.1,885.5 373.1,885.5 H377.1 Q379.1,885.5 379.1,888.5 V895.5 Q379.1,898.5 377.1,898.5 H373.1 Q371.1,898.5 370.1,897.0 Z"/><path fill="none" stroke="#000" stroke-width="1.3" d="M373.6,886.5V897.5M376.6,886.5V897.5"/>
<path fill="none" stroke="#000" stroke-width="1.9" d="M939.72,894.60L948.00,893.00"/><path fill="#000" stroke="#000" stroke-width="0.8" stroke-linejoin="round" d="M920.4,876.0 L934.4,874.5 L928.1,882.0 L930.5,890.0 L929.7,902.0 L927.4,917.0 L923.4,929.0 L920.6,928.0 L919.7,898.0Z"/><path fill="none" stroke="#fff" stroke-width="0.8" stroke-dasharray="1.5 5 3 6" d="M924.9,884Q928.1,898 924.4,920"/><path fill="#fff" stroke="#000" stroke-width="2" d="M951.0,892 L948.0,887.0 Q947.0,885.5 945.0,885.5 H941.0 Q939.0,885.5 939.0,888.5 V895.5 Q939.0,898.5 941.0,898.5 H945.0 Q947.0,898.5 948.0,897.0 Z"/><path fill="none" stroke="#000" stroke-width="1.3" d="M944.5,886.5V897.5M941.5,886.5V897.5"/>
<path fill="none" stroke="#000" stroke-width="1.9" d="M430.34,868.60L420.40,868.50"/><path fill="#000" stroke="#000" stroke-width="0.8" stroke-linejoin="round" d="M406.7,851.5 L414.7,850.0 L411.1,857.5 L412.4,865.5 L411.9,877.5 L410.7,892.5 L409.7,904.5 L406.9,903.5 L406.0,873.5Z"/><path fill="none" stroke="#fff" stroke-width="0.8" stroke-dasharray="1.5 5 3 6" d="M409.2,859.5Q411.1,873.5 408.9,895.5"/><ellipse cx="416.4" cy="867.5" rx="5.3" ry="6" fill="#fff" stroke="#000" stroke-width="2.6"/><ellipse cx="417.9" cy="867.5" rx="2.2" ry="4.5" fill="none" stroke="#000" stroke-width="1.2"/><circle cx="414.9" cy="867.5" r="1.8" fill="#000"/>
<path fill="none" stroke="#000" stroke-width="1.9" d="M900.37,868.60L907.30,868.50"/><path fill="#000" stroke="#000" stroke-width="0.8" stroke-linejoin="round" d="M875.7,851.5 L889.7,850.0 L883.4,857.5 L885.8,865.5 L884.9,877.5 L882.7,892.5 L878.7,904.5 L875.9,903.5 L875.0,873.5Z"/><path fill="none" stroke="#fff" stroke-width="0.8" stroke-dasharray="1.5 5 3 6" d="M880.2,859.5Q883.4,873.5 879.6,895.5"/><ellipse cx="903.3" cy="867.5" rx="5.3" ry="6" fill="#fff" stroke="#000" stroke-width="2.6"/><ellipse cx="904.8" cy="867.5" rx="2.2" ry="4.5" fill="none" stroke="#000" stroke-width="1.2"/><circle cx="901.8" cy="867.5" r="1.8" fill="#000"/>
<path fill="none" stroke="#000" stroke-width="1.9" d="M484.12,894.60L472.00,893.00"/><path fill="#000" stroke="#000" stroke-width="0.8" stroke-linejoin="round" d="M455.1,876.0 L465.0,874.5 L460.5,882.0 L462.2,890.0 L461.6,902.0 L460.0,917.0 L458.1,929.0 L455.3,928.0 L454.4,898.0Z"/><path fill="none" stroke="#fff" stroke-width="0.8" stroke-dasharray="1.5 5 3 6" d="M458.2,884Q460.5,898 457.8,920"/><circle cx="468" cy="892" r="5.2" fill="#fff" stroke="#000" stroke-width="3.1"/><circle cx="467.6" cy="892" r="2.1" fill="#000"/>
<path fill="none" stroke="#000" stroke-width="1.9" d="M850.23,894.60L854.00,893.00"/><path fill="#000" stroke="#000" stroke-width="0.8" stroke-linejoin="round" d="M822.2,876.0 L836.2,874.5 L829.9,882.0 L832.2,890.0 L831.4,902.0 L829.2,917.0 L825.2,929.0 L822.4,928.0 L821.5,898.0Z"/><path fill="none" stroke="#fff" stroke-width="0.8" stroke-dasharray="1.5 5 3 6" d="M826.6,884Q829.9,898 826.1,920"/><circle cx="850" cy="892" r="5.2" fill="#fff" stroke="#000" stroke-width="3.1"/><circle cx="849.6" cy="892" r="2.1" fill="#000"/>
<path fill="none" stroke="#000" stroke-width="1.9" d="M542.43,868.60L530.70,868.50"/><path fill="#000" stroke="#000" stroke-width="0.8" stroke-linejoin="round" d="M510.0,851.5 L523.7,850.0 L517.5,857.5 L519.9,865.5 L519.0,877.5 L516.8,892.5 L513.0,904.5 L510.2,903.5 L509.3,873.5Z"/><path fill="none" stroke="#fff" stroke-width="0.8" stroke-dasharray="1.5 5 3 6" d="M514.4,859.5Q517.5,873.5 513.8,895.5"/><circle cx="526.7" cy="867.5" r="5.2" fill="#fff" stroke="#000" stroke-width="3.1"/><circle cx="526.3000000000001" cy="867.5" r="2.1" fill="#000"/>
<path fill="none" stroke="#000" stroke-width="1.9" d="M794.80,868.60L794.80,868.50"/><path fill="#000" stroke="#000" stroke-width="0.8" stroke-linejoin="round" d="M762.8,851.5 L776.8,850.0 L770.5,857.5 L772.9,865.5 L772.0,877.5 L769.8,892.5 L765.8,904.5 L763.0,903.5 L762.1,873.5Z"/><path fill="none" stroke="#fff" stroke-width="0.8" stroke-dasharray="1.5 5 3 6" d="M767.3,859.5Q770.5,873.5 766.7,895.5"/><circle cx="790.8" cy="867.5" r="5.2" fill="#fff" stroke="#000" stroke-width="3.1"/><circle cx="790.4" cy="867.5" r="2.1" fill="#000"/>
<path fill="none" stroke="#000" stroke-width="1.9" d="M603.20,894.60L594.80,893.00"/><path fill="#000" stroke="#000" stroke-width="0.8" stroke-linejoin="round" d="M571.7,876.0 L585.7,874.5 L579.4,882.0 L581.8,890.0 L580.9,902.0 L578.7,917.0 L574.7,929.0 L571.9,928.0 L571.0,898.0Z"/><path fill="none" stroke="#fff" stroke-width="0.8" stroke-dasharray="1.5 5 3 6" d="M576.2,884Q579.4,898 575.6,920"/><circle cx="590.8" cy="892" r="5.2" fill="#fff" stroke="#000" stroke-width="3.1"/><circle cx="590.4" cy="892" r="2.1" fill="#000"/>
<path fill="none" stroke="#000" stroke-width="1.9" d="M733.80,894.60L730.70,893.00"/><path fill="#000" stroke="#000" stroke-width="0.8" stroke-linejoin="round" d="M701.8,876.0 L715.8,874.5 L709.5,882.0 L711.9,890.0 L711.0,902.0 L708.8,917.0 L704.8,929.0 L702.0,928.0 L701.1,898.0Z"/><path fill="none" stroke="#fff" stroke-width="0.8" stroke-dasharray="1.5 5 3 6" d="M706.3,884Q709.5,898 705.7,920"/><circle cx="726.7" cy="892" r="5.2" fill="#fff" stroke="#000" stroke-width="3.1"/><circle cx="726.3000000000001" cy="892" r="2.1" fill="#000"/>
<path fill="none" stroke="#000" stroke-width="1.9" d="M670.00,868.60L662.50,868.50"/><path fill="#000" stroke="#000" stroke-width="0.8" stroke-linejoin="round" d="M636.6,851.5 L650.6,850.0 L644.3,857.5 L646.7,865.5 L645.8,877.5 L643.6,892.5 L639.6,904.5 L636.8,903.5 L635.9,873.5Z"/><path fill="none" stroke="#fff" stroke-width="0.8" stroke-dasharray="1.5 5 3 6" d="M641.1,859.5Q644.3,873.5 640.5,895.5"/><circle cx="658.5" cy="867.5" r="5.2" fill="#fff" stroke="#000" stroke-width="3.1"/><circle cx="658.1" cy="867.5" r="2.1" fill="#000"/>
<path fill="#fff" stroke="#000" stroke-width="2" d="M306.3,867.5 L309.3,862.5 Q310.3,861.0 312.3,861.0 H316.3 Q318.3,861.0 318.3,864.0 V871.0 Q318.3,874.0 316.3,874.0 H312.3 Q310.3,874.0 309.3,872.5 Z"/><path fill="none" stroke="#000" stroke-width="1.3" d="M312.8,862.0V873.0M315.8,862.0V873.0"/>
<path fill="#fff" stroke="#000" stroke-width="2" d="M313.7,892 L316.7,887.0 Q317.7,885.5 319.7,885.5 H323.7 Q325.7,885.5 325.7,888.5 V895.5 Q325.7,898.5 323.7,898.5 H319.7 Q317.7,898.5 316.7,897.0 Z"/><path fill="none" stroke="#000" stroke-width="1.3" d="M320.2,886.5V897.5M323.2,886.5V897.5"/>
<path fill="#fff" stroke="#000" stroke-width="2" d="M1012.0,867.5 L1009.0,862.5 Q1008.0,861.0 1006.0,861.0 H1002.0 Q1000.0,861.0 1000.0,864.0 V871.0 Q1000.0,874.0 1002.0,874.0 H1006.0 Q1008.0,874.0 1009.0,872.5 Z"/><path fill="none" stroke="#000" stroke-width="1.3" d="M1005.5,862.0V873.0M1002.5,862.0V873.0"/>
<path fill="#fff" stroke="#000" stroke-width="2" d="M1004.5,892 L1001.5,887.0 Q1000.5,885.5 998.5,885.5 H994.5 Q992.5,885.5 992.5,888.5 V895.5 Q992.5,898.5 994.5,898.5 H998.5 Q1000.5,898.5 1001.5,897.0 Z"/><path fill="none" stroke="#000" stroke-width="1.3" d="M998.0,886.5V897.5M995.0,886.5V897.5"/>
<rect x="654.3" y="805" width="9" height="22" fill="#fff"/><path fill="none" stroke="#000" stroke-width="2.2" d="M653.3,805V827M664.3,805V827"/>
<path fill="none" stroke="#000" stroke-width="1.8" d="M646.7,820V827M670.8,820V827"/>
</svg></body></html>
